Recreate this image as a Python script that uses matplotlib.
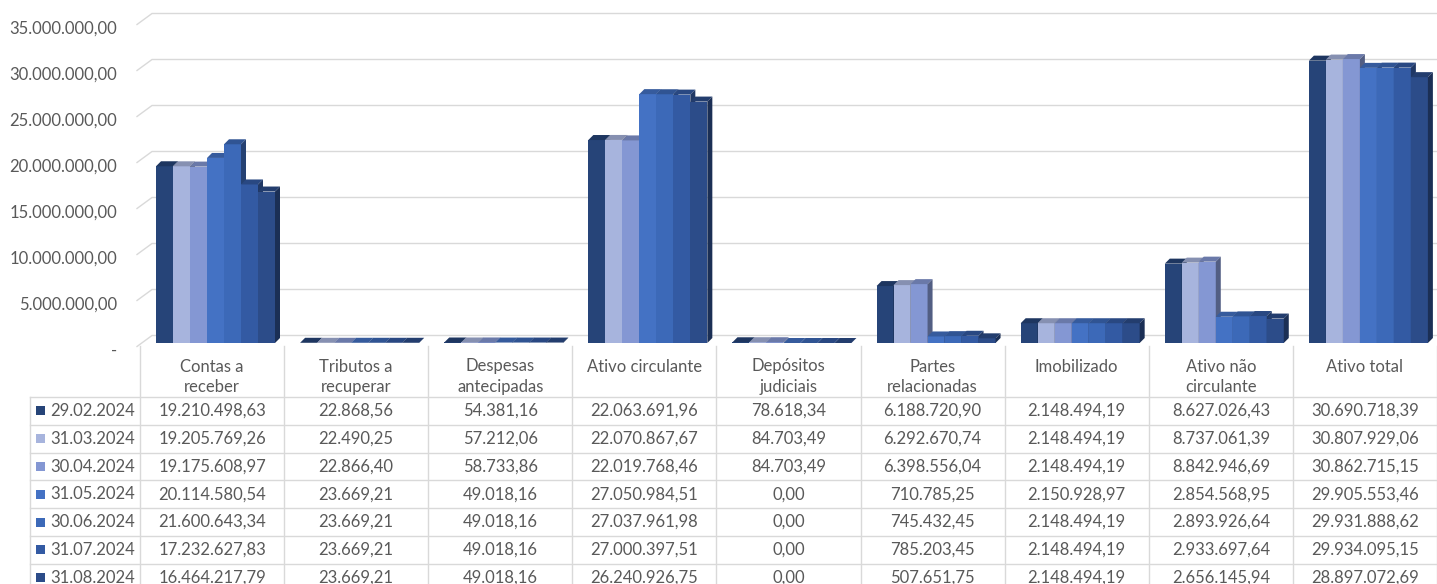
import matplotlib.pyplot as plt
from matplotlib.patches import Polygon, Rectangle
from matplotlib.colors import to_rgb
from matplotlib.transforms import Affine2D

plt.rcParams['font.family'] = ['Lato', 'DejaVu Sans']

# Data
categories = ["Contas a\nreceber", "Tributos a\nrecuperar", "Despesas\nantecipadas",
              "Ativo circulante", "Depósitos\njudiciais", "Partes\nrelacionadas",
              "Imobilizado", "Ativo não\ncirculante", "Ativo total"]
dates = ["29.02.2024", "31.03.2024", "30.04.2024", "31.05.2024",
         "30.06.2024", "31.07.2024", "31.08.2024"]
v_2902 = [19210498.63, 22868.56, 54381.16, 22063691.96, 78618.34, 6188720.90, 2148494.19, 8627026.43, 30690718.39]
v_3103 = [19205769.26, 22490.25, 57212.06, 22070867.67, 84703.49, 6292670.74, 2148494.19, 8737061.39, 30807929.06]
v_3004 = [19175608.97, 22866.40, 58733.86, 22019768.46, 84703.49, 6398556.04, 2148494.19, 8842946.69, 30862715.15]
v_3105 = [20114580.54, 23669.21, 49018.16, 27050984.51, 0.00, 710785.25, 2150928.97, 2854568.95, 29905553.46]
v_3006 = [21600643.34, 23669.21, 49018.16, 27037961.98, 0.00, 745432.45, 2148494.19, 2893926.64, 29931888.62]
v_3107 = [17232627.83, 23669.21, 49018.16, 27000397.51, 0.00, 785203.45, 2148494.19, 2933697.64, 29934095.15]
v_3108 = [16464217.79, 23669.21, 49018.16, 26240926.75, 0.00, 507651.75, 2148494.19, 2656145.94, 28897072.69]
series = [v_2902, v_3103, v_3004, v_3105, v_3006, v_3107, v_3108]
colors = ["#264478", "#A7B4DD", "#8497D3", "#4472C4", "#3C69B8", "#335AA3", "#2C4C89"]
yticks = [0, 5e6, 10e6, 15e6, 20e6, 25e6, 30e6, 35e6]

TEXT = "#595959"
GRID = "#d9d9d9"


def br(v):
    s = f"{v:,.2f}"
    return s.replace(",", "X").replace(".", ",").replace("X", ".")


def shade(c, f):
    r, g, b = to_rgb(c)
    return (r * f, g * f, b * f)


W, H = 1437, 584
fig = plt.figure(figsize=(W / 100, H / 100), dpi=100)

# chart area (pixel layout)
left_px, top_px, floor_px = 140, 21, 343
ax = fig.add_axes([left_px / W, (H - floor_px) / H, (W - left_px) / W, (floor_px - top_px) / H])
ax.set_xlim(-0.5, len(categories) - 0.5)
ax.set_ylim(0, 35e6)
ax.patch.set_visible(False)
for sp in ax.spines.values():
    sp.set_visible(False)
ax.set_xticks([])

px_x = (W - left_px) / len(categories)
px_y = (floor_px - top_px) / 35e6

# back-wall gridlines with the slanted left edge
for t in yticks:
    x0 = -0.5 - 3 / px_x
    x1 = -0.5 + 12 / px_x
    y_front = t - 3.5 / px_y
    y_back = t + 7.5 / px_y
    ax.plot([x0, x1, len(categories) - 0.5], [y_front, y_back, y_back],
            color=GRID, lw=1.0, zorder=1, clip_on=False)

ax.set_yticks(yticks)
ax.set_yticklabels(["-" if t == 0 else br(t) for t in yticks])
ax.tick_params(axis='y', length=0, pad=16.5, labelsize=12, labelcolor=TEXT)
# labels sit on the front edge of the 3D wall, a bit lower than the bars' scale
for lbl in ax.get_yticklabels():
    lbl.set_transform(lbl.get_transform() + Affine2D().translate(0, -6))

# 3D-looking bars
bw = 17 / px_x
ddx = 5 / px_x
ddy = 5 / px_y
for i in range(len(categories)):
    for j, vals in enumerate(series):
        v = vals[i]
        c = colors[j]
        xl = i - 0.5 + (16 + 17 * j) / px_x
        ax.bar(xl, v, width=bw, align='edge', color=c, lw=0, zorder=3)
        ax.add_patch(Polygon([(xl, v), (xl + bw, v), (xl + bw + ddx, v + ddy), (xl + ddx, v + ddy)],
                             closed=True, facecolor=shade(c, 0.8), lw=0, zorder=3))
        ax.add_patch(Polygon([(xl + bw, 0), (xl + bw + ddx, ddy), (xl + bw + ddx, v + ddy), (xl + bw, v)],
                             closed=True, facecolor=shade(c, 0.62), lw=0, zorder=3))

# data table below the chart
table_top = 346
tax = fig.add_axes([left_px / W, 0, (W - left_px) / W, (H - table_top) / H])
tax.set_xlim(-0.5, len(categories) - 0.5)
tax.set_ylim(H - table_top, 0)
tax.axis('off')

header_h = 51
row_h = 27.8
leg_left = -0.5 - (left_px - 30) / px_x
n_rows = len(dates)
bottom = header_h + row_h * (n_rows + 1)

for k in range(len(categories) + 1):
    tax.plot([k - 0.5, k - 0.5], [0, bottom], color=GRID, lw=1.0, clip_on=False)
tax.plot([leg_left, leg_left], [header_h, bottom], color=GRID, lw=1.0, clip_on=False)
for r in range(n_rows + 1):
    y = header_h + row_h * r
    tax.plot([leg_left, len(categories) - 0.5], [y, y], color=GRID, lw=1.0, clip_on=False)

for i, cat in enumerate(categories):
    tax.text(i, 12.5, cat, ha='center', va='top', fontsize=12, color=TEXT, linespacing=1.38)

for r, (d, vals, c) in enumerate(zip(dates, series, colors)):
    yc = header_h + row_h * r + row_h / 2
    tax.add_patch(Rectangle((-0.5 - (left_px - 36) / px_x, yc - 4.5), 9 / px_x, 9,
                            facecolor=c, lw=0, clip_on=False))
    tax.text(-0.5 - (left_px - 50) / px_x, yc, d, ha='left', va='center',
             fontsize=12, color=TEXT, clip_on=False)
    for i, v in enumerate(vals):
        tax.text(i, yc, br(v), ha='center', va='center', fontsize=12, color=TEXT)

fig.savefig("out.png", dpi=100)
